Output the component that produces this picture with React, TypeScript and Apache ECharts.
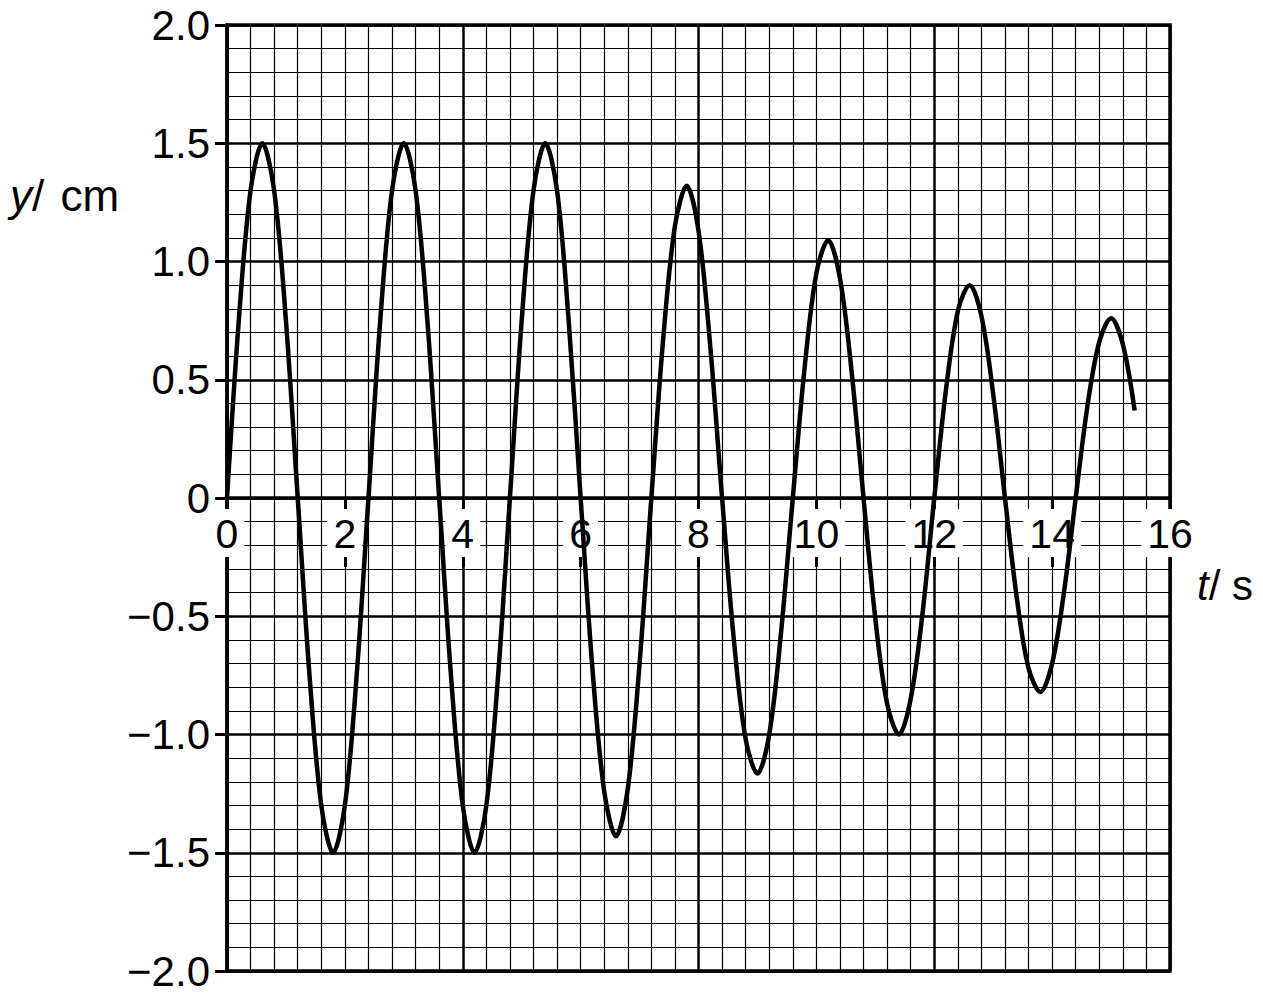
import * as echarts from "echarts"
import { useEffect, useRef } from "react"

const times = [
  0, 0.2, 0.4, 0.6, 0.8, 1.0, 1.2, 1.4, 1.6, 1.8, 2.0, 2.2, 2.4, 2.6, 2.8, 3.0,
  3.2, 3.4, 3.6, 3.8, 4.0, 4.2, 4.4, 4.6, 4.8, 5.0, 5.2, 5.4, 5.6, 5.8, 6.0, 6.2,
  6.4, 6.6, 6.8, 7.0, 7.2, 7.4, 7.6, 7.8, 8.0, 8.2, 8.4, 8.6, 8.8, 9.0, 9.2, 9.4,
  9.6, 9.8, 10.0, 10.2, 10.4, 10.6, 10.8, 11.0, 11.2, 11.4, 11.6, 11.8, 12.0,
  12.2, 12.4, 12.6, 12.8, 13.0, 13.2, 13.4, 13.6, 13.8, 14.0, 14.2, 14.4, 14.6,
  14.8, 15.0, 15.2, 15.4,
]

const displacement = [
  0, 0.75, 1.3, 1.5, 1.3, 0.75, 0, -0.75, -1.3, -1.5, -1.3, -0.75, 0, 0.75, 1.3,
  1.5, 1.3, 0.75, 0, -0.75, -1.3, -1.5, -1.3, -0.75, 0, 0.75, 1.3, 1.5, 1.3,
  0.74, 0, -0.72, -1.24, -1.43, -1.23, -0.7, 0, 0.67, 1.15, 1.32, 1.13, 0.64, 0,
  -0.6, -1.02, -1.165, -1.0, -0.57, 0, 0.55, 0.95, 1.09, 0.93, 0.53, 0, -0.51,
  -0.87, -1.0, -0.85, -0.49, 0, 0.46, 0.79, 0.9, 0.77, 0.44, 0, -0.42, -0.72,
  -0.82, -0.7, -0.4, 0, 0.39, 0.66, 0.76, 0.65, 0.37,
]

const xTicks = [0, 2, 4, 6, 8, 10, 12, 14, 16]
const xTickLabels = ["0", "2", "4", "6", "8", "10", "12", "14", "16"]
const yTicks = [-2, -1.5, -1, -0.5, 0, 0.5, 1, 1.5, 2]
const yTickLabels = ["−2.0", "−1.5", "−1.0", "−0.5", "0", "0.5", "1.0", "1.5", "2.0"]

const FONT = "Liberation Sans, Arial, Helvetica, sans-serif"

function tickLabel(ticks: number[], labels: string[], value: number) {
  const i = ticks.findIndex((t) => Math.abs(t - value) < 1e-6)
  return i < 0 ? "" : labels[i]
}

export default function App() {
  const node = useRef<HTMLDivElement>(null)

  useEffect(() => {
    if (!node.current) return
    const chart = echarts.init(node.current, undefined, { renderer: "svg" })
    chart.setOption({
      animation: false,
      backgroundColor: "#fff",
      textStyle: { fontFamily: FONT, color: "#000" },
      grid: {
        left: 227,
        top: 25,
        width: 943,
        height: 946,
        show: true,
        borderColor: "#000",
        borderWidth: 3.5,
        backgroundColor: "transparent",
        outerBoundsMode: "none",
      },
      xAxis: [
        {
          // labelled axis, lifted from the bottom edge up to y = 0
          type: "value",
          min: 0,
          max: 16,
          interval: 2,
          position: "bottom",
          offset: -473,
          z: 1,
          axisLine: { show: true, onZero: false, lineStyle: { color: "#000", width: 3.5 } },
          axisTick: { show: true, length: 69, lineStyle: { color: "#000", width: 3 } },
          axisLabel: {
            margin: 11,
            fontSize: 41,
            fontFamily: FONT,
            color: "#000",
            backgroundColor: "#fff",
            padding: [4, 6, 3, 6],
            formatter: (v: number) => tickLabel(xTicks, xTickLabels, v),
          },
          splitLine: { show: false },
        },
        {
          // grid-only axis
          type: "value",
          min: 0,
          max: 16,
          interval: 4,
          position: "bottom",
          z: 0,
          axisLine: { show: false, onZero: false },
          axisTick: { show: false },
          axisLabel: { show: false },
          splitLine: { show: true, lineStyle: { color: "#000", width: 2.5 } },
          minorTick: { show: false, splitNumber: 10 },
          minorSplitLine: { show: true, lineStyle: { color: "#000", width: 1.2 } },
        },
      ],
      yAxis: {
        type: "value",
        min: -2,
        max: 2,
        interval: 0.5,
        z: 0,
        axisLine: { show: true, onZero: false, lineStyle: { color: "#000", width: 3.5 } },
        axisTick: { show: true, length: 12, lineStyle: { color: "#000", width: 3 } },
        axisLabel: {
          margin: 17,
          fontSize: 42,
          fontFamily: FONT,
          color: "#000",
          formatter: (v: number) => tickLabel(yTicks, yTickLabels, v),
        },
        splitLine: { show: true, lineStyle: { color: "#000", width: 2.5 } },
        minorTick: { show: false, splitNumber: 5 },
        minorSplitLine: { show: true, lineStyle: { color: "#000", width: 1.2 } },
      },
      graphic: [
        {
          type: "text",
          x: 10,
          y: 195,
          style: {
            text: "{i|y}/ {n|cm}",
            fontSize: 44,
            fontFamily: FONT,
            fill: "#000",
            verticalAlign: "middle",
            rich: {
              i: { fontStyle: "italic", fontSize: 44, fontFamily: FONT },
              n: { fontSize: 44, fontFamily: FONT, padding: [0, 0, 0, 4] },
            },
          },
        },
        {
          type: "text",
          x: 1197,
          y: 585,
          style: {
            text: "{i|t}/ s",
            fontSize: 42,
            fontFamily: FONT,
            fill: "#000",
            verticalAlign: "middle",
            rich: { i: { fontStyle: "italic", fontSize: 42, fontFamily: FONT } },
          },
        },
      ],
      series: [
        {
          type: "line",
          xAxisIndex: 0,
          yAxisIndex: 0,
          z: 3,
          showSymbol: false,
          smooth: 0.33,
          data: times.map((t, i) => [t, displacement[i]]),
          lineStyle: { color: "#000", width: 4.5 },
          emphasis: { disabled: true },
        },
      ],
    })
    return () => chart.dispose()
  }, [])

  return (
    <div
      ref={node}
      style={{ position: "absolute", left: 0, top: 0, width: 1263, height: 996 }}
    />
  )
}
